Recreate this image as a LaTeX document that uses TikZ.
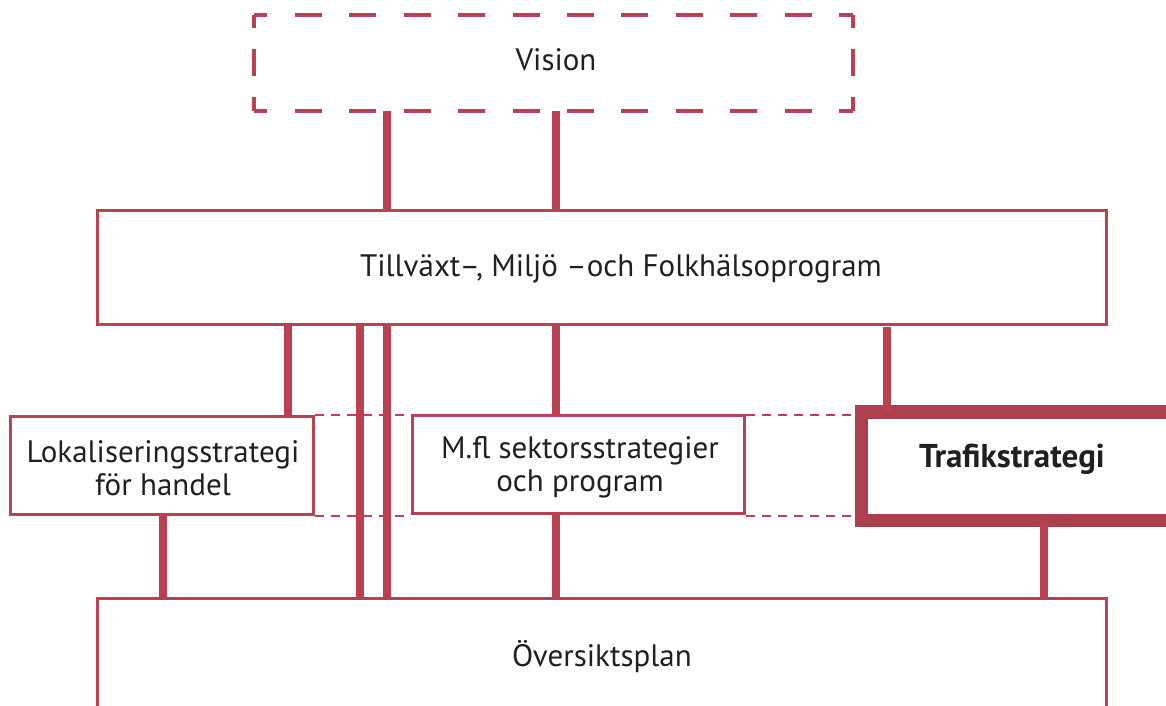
\documentclass[tikz,border=0pt]{standalone}
\usepackage{fontspec}
\setmainfont{PT Sans}
\definecolor{rl}{HTML}{B94152}
\definecolor{rd}{HTML}{AD404F}
\definecolor{tx}{HTML}{231F20}
\begin{document}
\begin{tikzpicture}[x=1pt,y=-1pt,
  txt/.style={text=tx,font=\fontsize{31}{33}\selectfont},
  box/.style={draw=rl,line width=3pt,fill=white,inner sep=0pt,txt,align=center},
  conn/.style={draw=rl,line width=8pt},
  dline/.style={draw=rl,line width=2pt,dash pattern=on 9pt off 7pt},
  vdash/.style={draw=rl,line width=4pt}]
\useasboundingbox (0,0) rectangle (1166,705);
% coordinates for connector columns
\coordinate (c163) at (163,0);
\coordinate (c288) at (288,0);
\coordinate (c360) at (360,0);
\coordinate (c386) at (387,0);
\coordinate (c556) at (556,0);
\coordinate (c887) at (887,0);
\coordinate (c1044) at (1044,0);
% nodes
\node[inner sep=0pt,minimum width=599pt,minimum height=96pt] (vision) at (553.5,63) {};
\node[txt] (visiont) at (556,60) {Vision};
\node[box,minimum width=1009pt,minimum height=114pt] (till) at (601.5,267) {};
\node[txt] (tillt) at (621,269) {Tillväxt–, Miljö –och Folkhälsoprogram};
\node[box,minimum width=1009pt,minimum height=170pt] (ov) at (601.5,683) {};
\node[txt] (ovt) at (602,657) {Översiktsplan};
% dashed Vision box, sides drawn separately so corners are L-shaped
\draw[vdash,dash pattern=on 27pt off 27.45pt,dash phase=13.5pt] (vision.north west) -- (vision.north east);
\draw[vdash,dash pattern=on 27pt off 27.45pt,dash phase=13.5pt] (vision.south west) -- (vision.south east);
\draw[vdash,dash pattern=on 27pt off 21pt,dash phase=13.5pt] (vision.north west) -- (vision.south west);
\draw[vdash,dash pattern=on 27pt off 21pt,dash phase=13.5pt] (vision.north east) -- (vision.south east);
% long connectors first
\draw[conn] (till.south -| c360) -- (ov.north -| c360);
\draw[conn] (till.south -| c386) -- (ov.north -| c386);
% strategy boxes
\node[box,minimum width=303pt,minimum height=98pt] (lok) at (161.5,465) {};
\node[txt,align=center] (lokt) at (163,468) {Lokaliseringsstrategi\\för handel};
\node[box,minimum width=332pt,minimum height=98pt] (mfl) at (578,464) {};
\node[txt,align=center] (mflt) at (580,467) {M.fl sektorsstrategier\\och program};
\node[draw=rd,line width=13.5pt,fill=white,inner sep=0pt,minimum width=320pt,minimum height=108.5pt] (tra) at (1021.5,466) {};
\node[text=tx,font=\fontsize{33}{36}\selectfont\bfseries] (trat) at (1012,459) {Trafikstrategi};
% dashed links between strategy boxes
\draw[dline] (lok.north east) -- (mfl.north west |- lok.north east);
\draw[dline] (lok.south east) -- (mfl.south west |- lok.south east);
\draw[dline] (mfl.north east |- lok.north east) -- (tra.west |- lok.north east);
\draw[dline] (mfl.south east |- lok.south east) -- (tra.west |- lok.south east);
% connectors
\draw[conn] (vision.south -| c386) -- (till.north -| c386);
\draw[conn] (vision.south -| c556) -- (till.north -| c556);
\draw[conn] (till.south -| c288) -- (lok.north -| c288);
\draw[conn] (till.south -| c556) -- (mfl.north -| c556);
\draw[conn] ([yshift=-1.5pt]till.south -| c887) -- ([yshift=-6pt]tra.north -| c887);
\draw[conn] (lok.south -| c163) -- (ov.north -| c163);
\draw[conn] (mfl.south -| c556) -- (ov.north -| c556);
\draw[conn] ([yshift=6pt]tra.south -| c1044) -- (ov.north -| c1044);
\end{tikzpicture}
\end{document}
